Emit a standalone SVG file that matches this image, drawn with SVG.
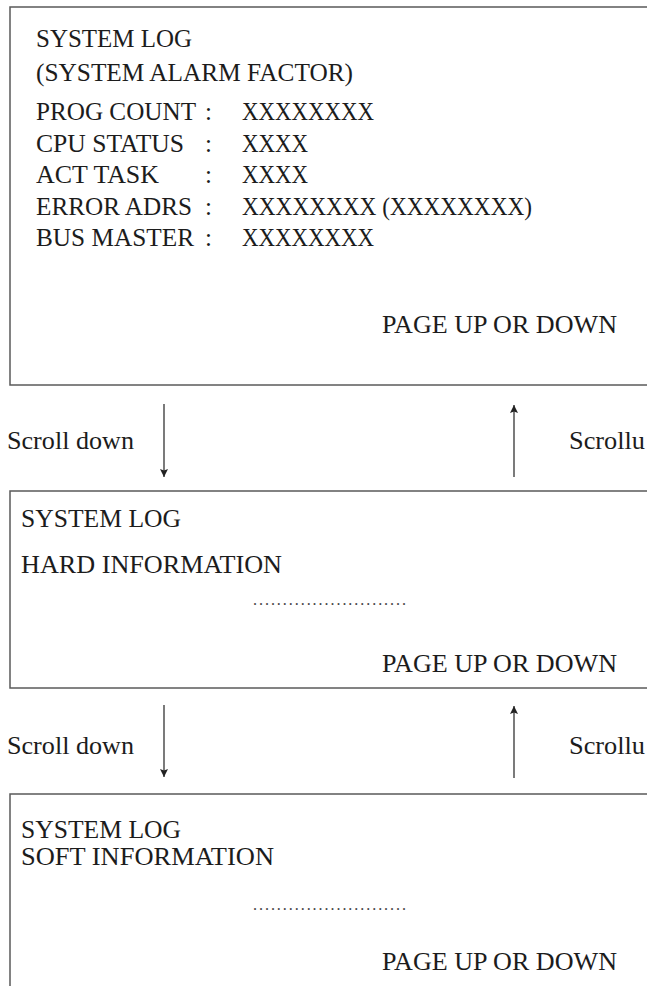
<svg xmlns="http://www.w3.org/2000/svg" width="647" height="986" viewBox="0 0 647 986">
<style>
  .box { fill: #ffffff; stroke: #5a5a5a; stroke-width: 1.5; }
  .t { font-family: "Liberation Serif", "Times New Roman", serif; font-size: 25px; fill: #1c1c1c; }
  .d { font-family: "Liberation Serif", "Times New Roman", serif; font-size: 16px; fill: #444; }
  .arr { stroke: #222; stroke-width: 1.2; fill: none; }
</style>
<defs>
  <marker id="ah" viewBox="0 0 10 10" refX="10" refY="5" markerWidth="10" markerHeight="8" markerUnits="userSpaceOnUse" orient="auto">
    <path d="M0,0 L10,5 L0,10 L2,5 z" fill="#222"/>
  </marker>
</defs>
<rect width="647" height="986" fill="#ffffff"/>

<g id="node-alarm-factor">
  <rect class="box" x="10" y="7" width="660" height="378"/>
  <text class="t" x="36" y="46.5" textLength="156" lengthAdjust="spacingAndGlyphs">SYSTEM LOG</text>
  <text class="t" x="36" y="81" textLength="317" lengthAdjust="spacingAndGlyphs">(SYSTEM ALARM FACTOR)</text>
  <text class="t" x="36" y="120" textLength="160" lengthAdjust="spacingAndGlyphs">PROG COUNT</text>
  <text class="t" x="205" y="120">:</text>
  <text class="t" x="242" y="120" textLength="132" lengthAdjust="spacingAndGlyphs">XXXXXXXX</text>
  <text class="t" x="36" y="151.5" textLength="148" lengthAdjust="spacingAndGlyphs">CPU STATUS</text>
  <text class="t" x="205" y="151.5">:</text>
  <text class="t" x="242" y="151.5" textLength="66" lengthAdjust="spacingAndGlyphs">XXXX</text>
  <text class="t" x="36" y="183" textLength="123" lengthAdjust="spacingAndGlyphs">ACT TASK</text>
  <text class="t" x="205" y="183">:</text>
  <text class="t" x="242" y="183" textLength="66" lengthAdjust="spacingAndGlyphs">XXXX</text>
  <text class="t" x="36" y="214.5" textLength="156" lengthAdjust="spacingAndGlyphs">ERROR ADRS</text>
  <text class="t" x="205" y="214.5">:</text>
  <text class="t" x="242" y="214.5" textLength="290" lengthAdjust="spacingAndGlyphs">XXXXXXXX (XXXXXXXX)</text>
  <text class="t" x="36" y="246" textLength="158" lengthAdjust="spacingAndGlyphs">BUS MASTER</text>
  <text class="t" x="205" y="246">:</text>
  <text class="t" x="242" y="246" textLength="132" lengthAdjust="spacingAndGlyphs">XXXXXXXX</text>
  <text class="t" x="382" y="333" textLength="235" lengthAdjust="spacingAndGlyphs">PAGE UP OR DOWN</text>
</g>

<g id="node-hard-information">
  <rect class="box" x="10" y="491" width="660" height="197"/>
  <text class="t" x="21" y="527" textLength="160" lengthAdjust="spacingAndGlyphs">SYSTEM LOG</text>
  <text class="t" x="21" y="573" textLength="261" lengthAdjust="spacingAndGlyphs">HARD INFORMATION</text>
  <text class="d" x="253" y="605" textLength="153" lengthAdjust="spacing">..........................</text>
  <text class="t" x="382" y="672" textLength="235" lengthAdjust="spacingAndGlyphs">PAGE UP OR DOWN</text>
</g>

<g id="node-soft-information">
  <rect class="box" x="10" y="794" width="660" height="220"/>
  <text class="t" x="21" y="838" textLength="160" lengthAdjust="spacingAndGlyphs">SYSTEM LOG</text>
  <text class="t" x="21" y="865" textLength="253" lengthAdjust="spacingAndGlyphs">SOFT INFORMATION</text>
  <text class="d" x="253" y="910" textLength="153" lengthAdjust="spacing">..........................</text>
  <text class="t" x="382" y="970" textLength="235" lengthAdjust="spacingAndGlyphs">PAGE UP OR DOWN</text>
</g>

<g id="connectors">
  <line class="arr" x1="164" y1="404" x2="164" y2="477" marker-end="url(#ah)"/>
  <line class="arr" x1="514" y1="477" x2="514" y2="405" marker-end="url(#ah)"/>
  <text class="t" x="7" y="449" textLength="127" lengthAdjust="spacingAndGlyphs">Scroll down</text>
  <text class="t" x="569" y="449" textLength="76" lengthAdjust="spacingAndGlyphs">Scrollu</text>

  <line class="arr" x1="164" y1="705" x2="164" y2="777" marker-end="url(#ah)"/>
  <line class="arr" x1="514" y1="778" x2="514" y2="706" marker-end="url(#ah)"/>
  <text class="t" x="7" y="754" textLength="127" lengthAdjust="spacingAndGlyphs">Scroll down</text>
  <text class="t" x="569" y="754" textLength="76" lengthAdjust="spacingAndGlyphs">Scrollu</text>
</g>
</svg>
